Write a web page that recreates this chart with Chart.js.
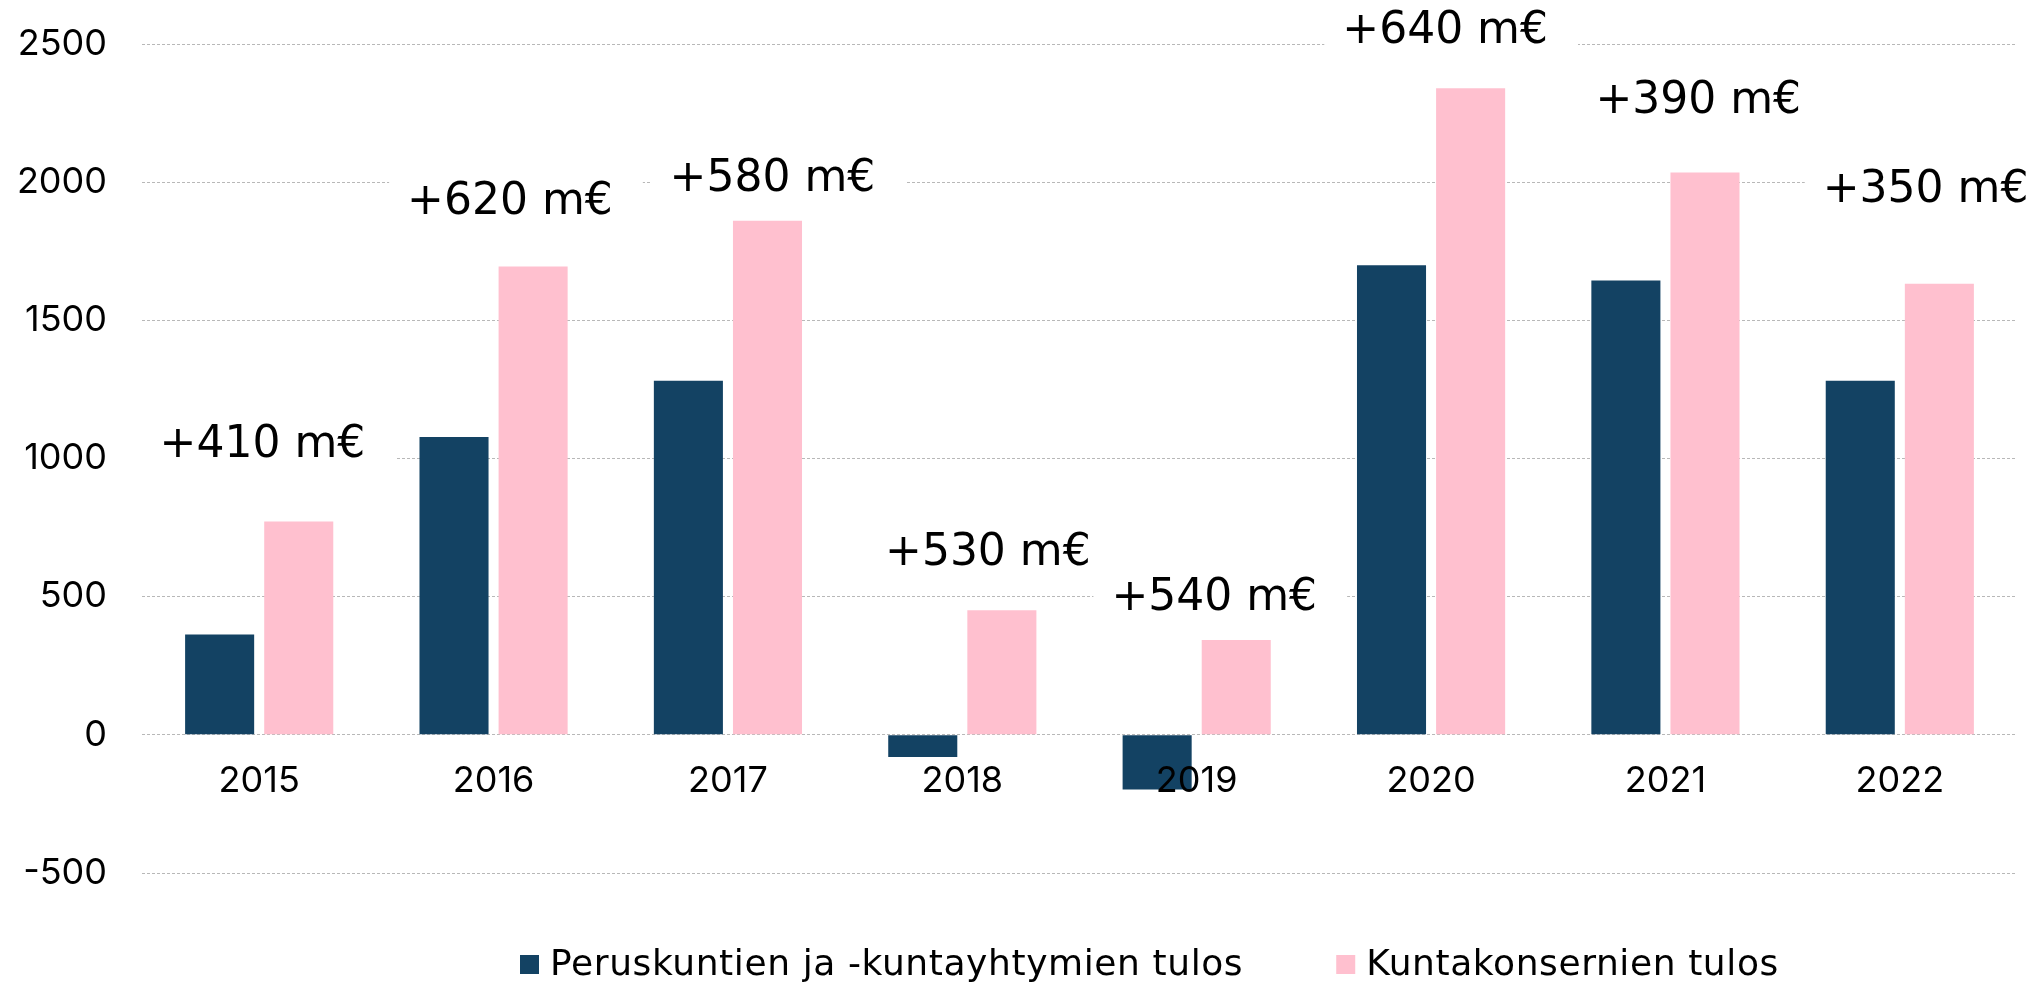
<!DOCTYPE html>
<html>
<head>
<meta charset="utf-8">
<script src="https://cdn.jsdelivr.net/npm/chart.js@4.4.0/dist/chart.umd.min.js"></script>
<style>
  html, body { margin: 0; padding: 0; background: #fff; }
</style>
</head>
<body>
<canvas id="tulos" width="2039" height="984"></canvas>
<script>
const years = ['2015', '2016', '2017', '2018', '2019', '2020', '2021', '2022'];
const peruskunnat = [363, 1078, 1281, -80, -198, 1699, 1644, 1281];
const konsernit = [772, 1695, 1860, 451, 343, 2340, 2035, 1632];

// difference labels, placed by hand in the original
const erotus = ['+410 m€', '+620 m€', '+580 m€', '+530 m€', '+540 m€', '+640 m€', '+390 m€', '+350 m€'];
const erotusY = [1006, 1883, 1968, 615, 452, 2505, 2249, 1929];        // baseline, in y units
const erotusShift = [0.014, 0.07, 0.19, 0.109, 0.075, 0.06, 0.14, 0.11]; // share of a category

const navy = '#134263';
const pink = '#ffc0cf';
const tickFont = { family: 'Inter', size: 36 };
const labelFont = '44px "DejaVu Sans"';
const legendFont = '36px "DejaVu Sans"';

// white boxes first so they hide the gridlines, text after the bars
const erotusPlugin = {
    id: 'erotus',
    beforeDatasetsDraw(chart) {
        const { ctx, scales: { x, y } } = chart;
        const cat = x.getPixelForValue(1) - x.getPixelForValue(0);
        ctx.save();
        ctx.font = labelFont;
        erotus.forEach((t, i) => {
            const w = ctx.measureText(t).width;
            const cx = x.getPixelForValue(i) + erotusShift[i] * cat;
            const by = y.getPixelForValue(erotusY[i]);
            ctx.fillStyle = '#fff';
            ctx.fillRect(cx - w / 2 - 18, by - 42, w + 48, 46);
        });
        ctx.restore();
    },
    afterDatasetsDraw(chart) {
        const { ctx, scales: { x, y } } = chart;
        const cat = x.getPixelForValue(1) - x.getPixelForValue(0);
        ctx.save();
        ctx.font = labelFont;
        ctx.fillStyle = '#000';
        ctx.textAlign = 'center';
        ctx.textBaseline = 'alphabetic';
        erotus.forEach((t, i) => {
            const cx = x.getPixelForValue(i) + erotusShift[i] * cat;
            ctx.fillText(t, cx, y.getPixelForValue(erotusY[i]));
        });
        ctx.restore();
    }
};

// legend drawn by hand: square, small gap, text
const legendPlugin = {
    id: 'selite',
    afterDraw(chart) {
        const { ctx } = chart;
        let lx = 520;
        const base = 975;
        ctx.save();
        ctx.font = legendFont;
        ctx.letterSpacing = '0.6px';
        ctx.textBaseline = 'alphabetic';
        chart.data.datasets.forEach(ds => {
            ctx.fillStyle = ds.backgroundColor;
            ctx.fillRect(lx, base - 20, 19, 19);
            ctx.fillStyle = '#000';
            ctx.fillText(ds.label, lx + 30, base);
            lx += 30 + ctx.measureText(ds.label).width + 93;
        });
        ctx.restore();
    }
};

new Chart(document.getElementById('tulos'), {
    type: 'bar',
    data: {
        labels: years,
        datasets: [
            {
                label: 'Peruskuntien ja -kuntayhtymien tulos',
                data: peruskunnat,
                backgroundColor: navy,
                categoryPercentage: 0.675,
                barPercentage: 0.873
            },
            {
                label: 'Kuntakonsernien tulos',
                data: konsernit,
                backgroundColor: pink,
                categoryPercentage: 0.675,
                barPercentage: 0.873
            }
        ]
    },
    options: {
        responsive: false,
        animation: false,
        devicePixelRatio: 1,
        layout: { padding: { top: 44, right: 22, bottom: 111, left: 0 } },
        plugins: {
            legend: { display: false },
            tooltip: { enabled: false }
        },
        scales: {
            x: {
                position: { y: 0 },
                grid: { display: false, drawTicks: false },
                border: { display: false },
                ticks: { font: tickFont, color: '#000', padding: 25, maxRotation: 0, z: 1 },
                afterFit(scale) { scale.paddingLeft = 0; scale.paddingRight = 0; }
            },
            y: {
                min: -500,
                max: 2500,
                grid: { color: '#b8b8b8', lineWidth: 1, drawTicks: false },
                border: { display: false, dash: [3, 2] },
                ticks: {
                    stepSize: 500, font: tickFont, color: '#000', padding: 35,
                    callback: v => String(v)
                },
                afterFit(scale) {
                    scale.width = 142;
                    scale.paddingTop = 0;
                    scale.paddingBottom = 0;
                }
            }
        }
    },
    plugins: [erotusPlugin, legendPlugin]
});
</script>
</body>
</html>
